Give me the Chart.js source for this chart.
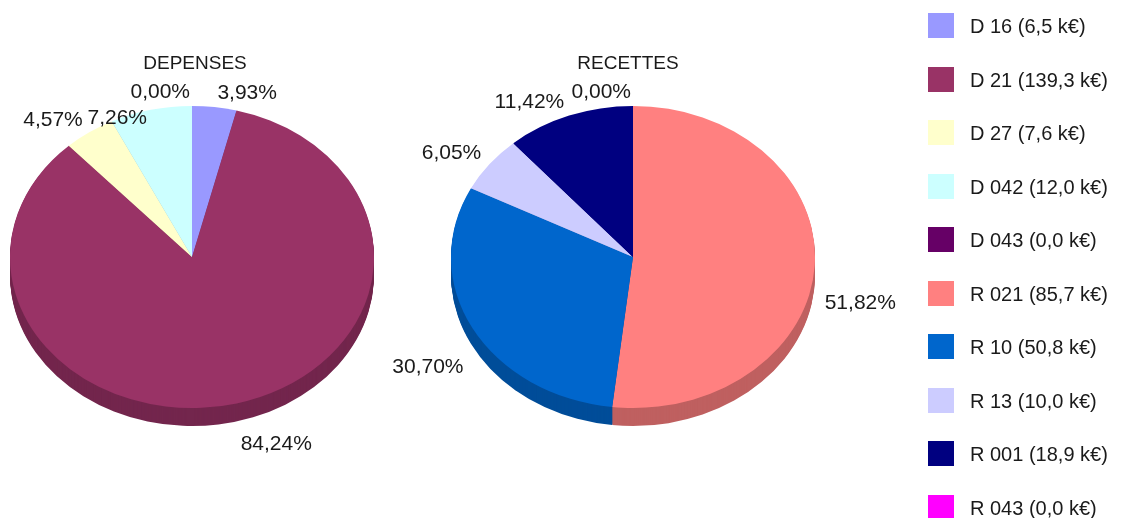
<!DOCTYPE html>
<html>
<head>
<meta charset="utf-8">
<script src="https://cdn.jsdelivr.net/npm/chart.js@4/dist/chart.umd.min.js"></script>
<style>
  html, body { margin: 0; padding: 0; background: #ffffff; }
  body { width: 1124px; height: 518px; position: relative; overflow: hidden; }
  canvas { position: absolute; top: 0; }
  #cDep { left: 0; }
  #cRec { left: 380px; }
</style>
</head>
<body>
<canvas id="cDep" width="380" height="518"></canvas>
<canvas id="cRec" width="744" height="518"></canvas>
<script>
// ---- data ----
const depensesTitle = 'DEPENSES';
const recettesTitle = 'RECETTES';
const depensesCodes = ['D 16', 'D 21', 'D 27', 'D 042', 'D 043'];
const depensesAmounts = [6.5, 139.3, 7.6, 12.0, 0.0];      // k€
const depensesPct = [3.93, 84.24, 4.57, 7.26, 0.00];       // %
const depensesColors = ['#9999FF', '#993366', '#FFFFCC', '#CCFFFF', '#660066'];
const recettesCodes = ['R 021', 'R 10', 'R 13', 'R 001', 'R 043'];
const recettesAmounts = [85.7, 50.8, 10.0, 18.9, 0.0];     // k€
const recettesPct = [51.82, 30.70, 6.05, 11.42, 0.00];     // %
const recettesColors = ['#FF8080', '#0066CC', '#CCCCFF', '#000080', '#FF00FF'];

// ---- styling constants ----
const FONT = "'Liberation Sans', Arial, sans-serif";
const SY = 0.83;       // vertical squash of the pie (tilt)
const DEPTH = 18;      // thickness of the 3D side
const TEXT = '#1a1a1a';

function fmt(v, d) { return v.toFixed(d).replace('.', ','); }
function darker(hex, f) {
  const n = parseInt(hex.slice(1), 16);
  const r = Math.round(((n >> 16) & 255) * f), g = Math.round(((n >> 8) & 255) * f), b = Math.round((n & 255) * f);
  return 'rgb(' + r + ',' + g + ',' + b + ')';
}

const pie3d = {
  id: 'pie3d',
  beforeDatasetsDraw(chart) {
    const ctx = chart.ctx;
    const meta = chart.getDatasetMeta(0);
    const colors = chart.data.datasets[0].backgroundColor;
    const arcs = meta.data;
    if (!arcs.length) return;
    const c = arcs[0].getProps(['x', 'y'], true);
    // side (extrusion)
    for (let d = DEPTH; d >= 1; d--) {
      arcs.forEach((arc, i) => {
        const p = arc.getProps(['x', 'y', 'startAngle', 'endAngle', 'outerRadius'], true);
        if (p.endAngle - p.startAngle <= 0) return;
        ctx.save();
        ctx.translate(0, d);
        ctx.translate(p.x, p.y); ctx.scale(1, SY); ctx.translate(-p.x, -p.y);
        ctx.beginPath();
        ctx.moveTo(p.x, p.y);
        ctx.arc(p.x, p.y, p.outerRadius, p.startAngle, p.endAngle);
        ctx.closePath();
        ctx.fillStyle = darker(colors[i], 0.75);
        ctx.fill();
        ctx.restore();
      });
    }
    // top face squashed
    ctx.save();
    ctx.translate(c.x, c.y); ctx.scale(1, SY); ctx.translate(-c.x, -c.y);
  },
  afterDatasetsDraw(chart, args, opts) {
    const ctx = chart.ctx;
    ctx.restore();
    const meta = chart.getDatasetMeta(0);
    const vals = chart.data.datasets[0].data;
    const arcs = meta.data;
    const placed = [];
    ctx.save();
    ctx.font = '21px ' + FONT;
    ctx.fillStyle = TEXT;
    ctx.textBaseline = 'alphabetic';
    const CAP = 15;
    for (let i = arcs.length - 1; i >= 0; i--) {
      const p = arcs[i].getProps(['x', 'y', 'startAngle', 'endAngle', 'outerRadius'], true);
      const mid = (p.startAngle + p.endAngle) / 2;
      const cs = Math.cos(mid), sn = Math.sin(mid);
      const px = p.x + p.outerRadius * cs;
      const py = p.y + p.outerRadius * SY * sn;
      const txt = fmt(vals[i], 2) + '%';
      const w = ctx.measureText(txt).width;
      const right = cs > 0.001;
      const xoff = 2 + 8 * Math.abs(cs);
      let x = right ? px + xoff : px - xoff;
      let base;
      if (sn < 0) base = py - 8 * Math.abs(sn);
      else base = py + DEPTH + 10 + 4 * sn + CAP;
      let box = { l: right ? x : x - w, r: right ? x + w : x, t: base - CAP, b: base };
      let guard = 0;
      while (placed.some(q => box.l < q.r && box.r > q.l && box.t < q.b && box.b > q.t) && guard++ < 5) {
        base += 22;
        box = { l: box.l, r: box.r, t: base - CAP, b: base };
      }
      placed.push(box);
      ctx.textAlign = right ? 'left' : 'right';
      ctx.fillText(txt, x, base);
    }
    // title
    ctx.font = '19px ' + FONT;
    ctx.textAlign = 'center';
    ctx.fillText(opts.title, opts.titleX, 69);
    ctx.restore();
  }
};

const legendPlugin = {
  id: 'sideLegend',
  afterDraw(chart, args, opts) {
    if (!opts.items) return;
    const ctx = chart.ctx;
    ctx.save();
    ctx.font = '20px ' + FONT;
    ctx.textAlign = 'left';
    ctx.textBaseline = 'alphabetic';
    opts.items.forEach((it, k) => {
      const cy = 25.5 + k * 53.5;
      ctx.fillStyle = it.color;
      ctx.fillRect(opts.boxX, Math.round(cy - 12.5), 26, 25);
      ctx.fillStyle = TEXT;
      ctx.fillText(it.text, opts.boxX + 42, cy + 7.5);
    });
    ctx.restore();
  }
};

function makePie(id, pct, colors, padding, title, titleX, legendItems) {
  return new Chart(document.getElementById(id), {
    type: 'pie',
    data: {
      labels: pct.map((_, i) => i),
      datasets: [{ data: pct, backgroundColor: colors, borderWidth: 0, hoverOffset: 0 }]
    },
    options: {
      responsive: false,
      animation: false,
      events: [],
      devicePixelRatio: 1,
      layout: { padding: padding },
      plugins: {
        legend: { display: false },
        title: { display: false },
        tooltip: { enabled: false },
        pie3d: { title: title, titleX: titleX },
        sideLegend: { items: legendItems, boxX: 928 - 380 }
      }
    },
    plugins: [pie3d, legendPlugin]
  });
}

const legendItems = depensesCodes.map((c, i) => ({ text: c + ' (' + fmt(depensesAmounts[i], 1) + ' k€)', color: depensesColors[i] }))
  .concat(recettesCodes.map((c, i) => ({ text: c + ' (' + fmt(recettesAmounts[i], 1) + ' k€)', color: recettesColors[i] })));

makePie('cDep', depensesPct, depensesColors, { left: 10, right: 6, top: 75, bottom: 79 }, depensesTitle, 195, null);
makePie('cRec', recettesPct, recettesColors, { left: 71, right: 309, top: 75, bottom: 79 }, recettesTitle, 628 - 380, legendItems);
</script>
</body>
</html>
